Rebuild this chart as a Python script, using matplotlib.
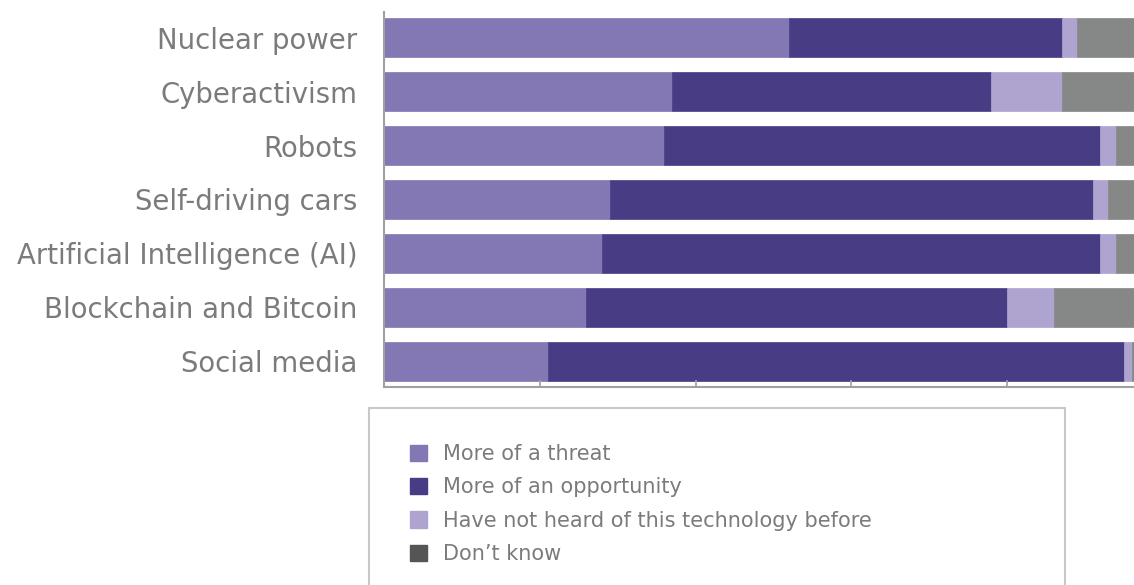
import matplotlib.pyplot as plt
from matplotlib.patches import Patch, Rectangle

technologies = ["Nuclear power", "Cyberactivism", "Robots", "Self-driving cars",
                "Artificial Intelligence (AI)", "Blockchain and Bitcoin", "Social media"]
threat = [52, 37, 36, 29, 28, 26, 21]
opportunity = [35, 41, 56, 62, 64, 54, 74]
not_heard = [2, 9, 2, 2, 2, 6, 1]
dont_know = [11, 13, 6, 7, 6, 14, 4]

series = [
    ("More of a threat", threat, "#8377b4", "#8377b4"),
    ("More of an opportunity", opportunity, "#483c85", "#483c85"),
    ("Have not heard of this technology before", not_heard, "#afa3d0", "#afa3d0"),
    ("Don\u2019t know", dont_know, "#858887", "#555555"),
]

plt.rcParams['font.family'] = ['DejaVu Sans']
text_grey = "#7b7b7b"

fig = plt.figure(figsize=(11.34, 5.85), dpi=100)
W, H = 1134, 585
# axes runs past the right edge of the canvas on purpose
ax = fig.add_axes([384 / W, 1 - 387 / H, 778.75 / W, 375 / H])

ypos = list(range(len(technologies)))
left = [0] * len(technologies)
for name, vals, color, _ in series:
    ax.barh(ypos, vals, left=left, height=0.725, color=color, edgecolor=color, linewidth=0.5)
    left = [a + b for a, b in zip(left, vals)]

ax.set_xlim(0, 100)
ax.set_ylim(6.48, -0.48)
ax.set_yticks(ypos)
ax.set_yticklabels(technologies, fontsize=19.8, color=text_grey)
ax.set_xticks([0, 20, 40, 60, 80, 100])
ax.set_xticklabels([])
ax.tick_params(axis='x', direction='in', length=5, width=1.2, color="#a0a0a0")
ax.tick_params(axis='y', length=0, pad=19)
for side in ["top", "right"]:
    ax.spines[side].set_visible(False)
for side in ["left", "bottom"]:
    ax.spines[side].set_color("#a0a0a0")
    ax.spines[side].set_linewidth(1.5)

# legend frame, open at the bottom
fig.patches.append(Rectangle((369 / W, -0.05), (1065 - 369) / W, (1 - 408 / H) + 0.05,
                             transform=fig.transFigure, fill=False,
                             edgecolor="#c8c8c8", linewidth=1.5))

handles = [Patch(facecolor=lc, edgecolor=lc) for _, _, _, lc in series]
labels = [s[0] for s in series]
fig.legend(handles, labels, loc="upper left", bbox_to_anchor=(410 / W, 1 - 444 / H),
           frameon=False, fontsize=15, labelcolor=text_grey,
           handlelength=0.82, handleheight=0.82, handletextpad=0.75,
           labelspacing=0.64, borderpad=0, borderaxespad=0)

fig.savefig("out.png", dpi=100)
